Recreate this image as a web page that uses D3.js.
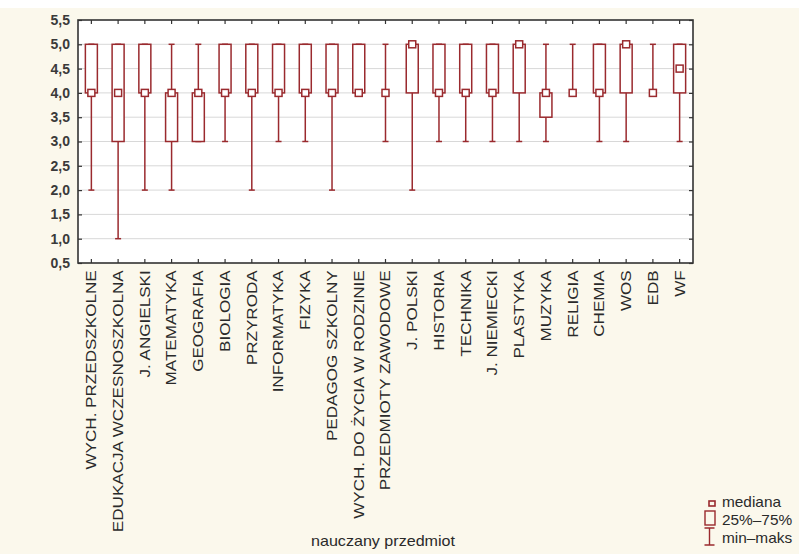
<!DOCTYPE html>
<html>
<head>
<meta charset="utf-8">
<script src="https://cdn.jsdelivr.net/npm/d3@7"></script>
<style>
  html, body { margin: 0; padding: 0; background: #fff; }
  svg { display: block; font-family: Arial, "Liberation Sans", sans-serif; }
</style>
</head>
<body>
<svg id="chart" width="799" height="554"></svg>
<script>
'use strict';

// data
const subjects = ['WYCH. PRZEDSZKOLNE', 'EDUKACJA WCZESNOSZKOLNA', 'J. ANGIELSKI', 'MATEMATYKA',
                  'GEOGRAFIA', 'BIOLOGIA', 'PRZYRODA', 'INFORMATYKA', 'FIZYKA', 'PEDAGOG SZKOLNY',
                  'WYCH. DO ŻYCIA W RODZINIE', 'PRZEDMIOTY ZAWODOWE', 'J. POLSKI', 'HISTORIA',
                  'TECHNIKA', 'J. NIEMIECKI', 'PLASTYKA', 'MUZYKA', 'RELIGIA', 'CHEMIA', 'WOS', 'EDB', 'WF'];
const mins    = [2, 1, 2, 2, 3, 3, 2, 3, 3, 2, 4, 3, 2, 3, 3, 3, 3, 3, 4, 3, 3, 4, 3];
const q1s     = [4, 3, 4, 3, 3, 4, 4, 4, 4, 4, 4, 4, 4, 4, 4, 4, 4, 3.5, 4, 4, 4, 4, 4];
const medians = [4, 4, 4, 4, 4, 4, 4, 4, 4, 4, 4, 4, 5, 4, 4, 4, 5, 4, 4, 4, 5, 4, 4.5];
const q3s     = [5, 5, 5, 4, 4, 5, 5, 5, 5, 5, 5, 4, 5, 5, 5, 5, 5, 4, 4, 5, 5, 4, 5];
const maxs    = [5, 5, 5, 5, 5, 5, 5, 5, 5, 5, 5, 5, 5, 5, 5, 5, 5, 5, 5, 5, 5, 5, 5];
const yTicks  = [0.5, 1, 1.5, 2, 2.5, 3, 3.5, 4, 4.5, 5, 5.5];
const legendItems = ['mediana', '25%–75%', 'min–maks'];

const red = '#9a2a2e';
const margin = {top: 20, left: 78, right: 106, bottom: 291};
const width = 799, height = 554;

const svg = d3.select('#chart');

svg.append('rect')
   .attr('x', 0).attr('y', 8)
   .attr('width', width).attr('height', height - 8)
   .attr('fill', '#fbf8ec');

const x = d3.scaleBand()
            .domain(subjects)
            .range([margin.left, width - margin.right]);
const y = d3.scaleLinear()
            .domain([0.5, 5.5])
            .range([height - margin.bottom, margin.top]);

const plotW = width - margin.right - margin.left,
      plotH = height - margin.bottom - margin.top;

svg.append('rect')
   .attr('x', margin.left).attr('y', margin.top)
   .attr('width', plotW).attr('height', plotH)
   .attr('fill', '#fff');

// grid
svg.append('g')
   .selectAll('line')
   .data(yTicks.slice(1, -1))
   .join('line')
   .attr('x1', margin.left).attr('x2', margin.left + plotW)
   .attr('y1', d => y(d)).attr('y2', d => y(d))
   .attr('stroke', '#d8d8d8')
   .attr('stroke-width', 1);

// axes with inner ticks
const fmt = d => d3.format('.1f')(d).replace('.', ',');
const leftAxis = svg.append('g')
   .attr('transform', 'translate(' + margin.left + ',0)')
   .call(d3.axisLeft(y).tickValues(yTicks).tickSizeInner(-4).tickSizeOuter(0).tickPadding(8).tickFormat(fmt));
leftAxis.selectAll('text')
   .attr('font-size', 14).attr('font-weight', 'bold').attr('fill', '#3a3a3a');
svg.append('g')
   .attr('transform', 'translate(' + (margin.left + plotW) + ',0)')
   .call(d3.axisRight(y).tickValues(yTicks).tickSizeInner(-4).tickSizeOuter(0).tickFormat(''));
const bottomAxis = svg.append('g')
   .attr('transform', 'translate(0,' + (margin.top + plotH) + ')')
   .call(d3.axisBottom(x).tickSizeInner(-4).tickSizeOuter(0));
svg.append('g')
   .attr('transform', 'translate(0,' + margin.top + ')')
   .call(d3.axisTop(x).tickSizeInner(-4).tickSizeOuter(0).tickFormat(''));
svg.selectAll('.domain').remove();
svg.selectAll('.tick line').attr('stroke', '#333').attr('stroke-width', 1.2);

bottomAxis.selectAll('text')
   .attr('transform', 'rotate(-90) scale(1.22,1)')
   .attr('text-anchor', 'end')
   .attr('x', -6).attr('y', 0).attr('dy', '0.35em')
   .attr('font-size', 14).attr('fill', '#2a2a2a');

svg.append('rect')
   .attr('x', margin.left).attr('y', margin.top)
   .attr('width', plotW).attr('height', plotH)
   .attr('fill', 'none').attr('stroke', '#333').attr('stroke-width', 1.6);

// boxes
const stats = subjects.map((s, i) => ({
    name: s, min: mins[i], q1: q1s[i], med: medians[i], q3: q3s[i], max: maxs[i]
}));
const boxW = 12, capW = 6, medS = 7;
const g = svg.append('g').attr('stroke', red).attr('fill', 'none').attr('stroke-width', 1.5);
const cx = d => x(d.name) + x.bandwidth() / 2;

g.selectAll('.whisker')
 .data(stats)
 .join('line')
 .attr('x1', cx).attr('x2', cx)
 .attr('y1', d => y(d.min)).attr('y2', d => y(d.max));
g.selectAll('.capLo')
 .data(stats)
 .join('line')
 .attr('x1', d => cx(d) - capW / 2).attr('x2', d => cx(d) + capW / 2)
 .attr('y1', d => y(d.min)).attr('y2', d => y(d.min));
g.selectAll('.capHi')
 .data(stats)
 .join('line')
 .attr('x1', d => cx(d) - capW / 2).attr('x2', d => cx(d) + capW / 2)
 .attr('y1', d => y(d.max)).attr('y2', d => y(d.max));
g.selectAll('.box')
 .data(stats)
 .join('rect')
 .attr('x', d => cx(d) - boxW / 2)
 .attr('y', d => y(d.q3))
 .attr('width', boxW)
 .attr('height', d => y(d.q1) - y(d.q3))
 .attr('fill', '#fff');
g.selectAll('.med')
 .data(stats)
 .join('rect')
 .attr('x', d => cx(d) - medS / 2)
 .attr('y', d => y(d.med) - medS / 2)
 .attr('width', medS).attr('height', medS)
 .attr('fill', '#fff');

// x title
svg.append('text')
   .attr('transform', 'translate(383,546) scale(1.15,1)')
   .attr('text-anchor', 'middle')
   .attr('font-size', 14).attr('fill', '#2a2a2a')
   .text('nauczany przedmiot');

// legend
const lg = svg.append('g');
lg.selectAll('text')
  .data(legendItems)
  .join('text')
  .attr('transform', (d, i) => 'translate(722,' + (507 + i * 18) + ') scale(1.1,1)')
  .attr('font-size', 14).attr('fill', '#2a2a2a')
  .text(d => d);
lg.append('rect').attr('x', 709).attr('y', 501).attr('width', 6).attr('height', 5)
  .attr('fill', 'none').attr('stroke', red).attr('stroke-width', 1.6);
lg.append('rect').attr('x', 705).attr('y', 511).attr('width', 10).attr('height', 14)
  .attr('fill', 'none').attr('stroke', red).attr('stroke-width', 1.4);
lg.append('path').attr('d', 'M704.5,528H714.5M709.5,528V545M704.5,545H714.5')
  .attr('fill', 'none').attr('stroke', red).attr('stroke-width', 1.4);
</script>
</body>
</html>
